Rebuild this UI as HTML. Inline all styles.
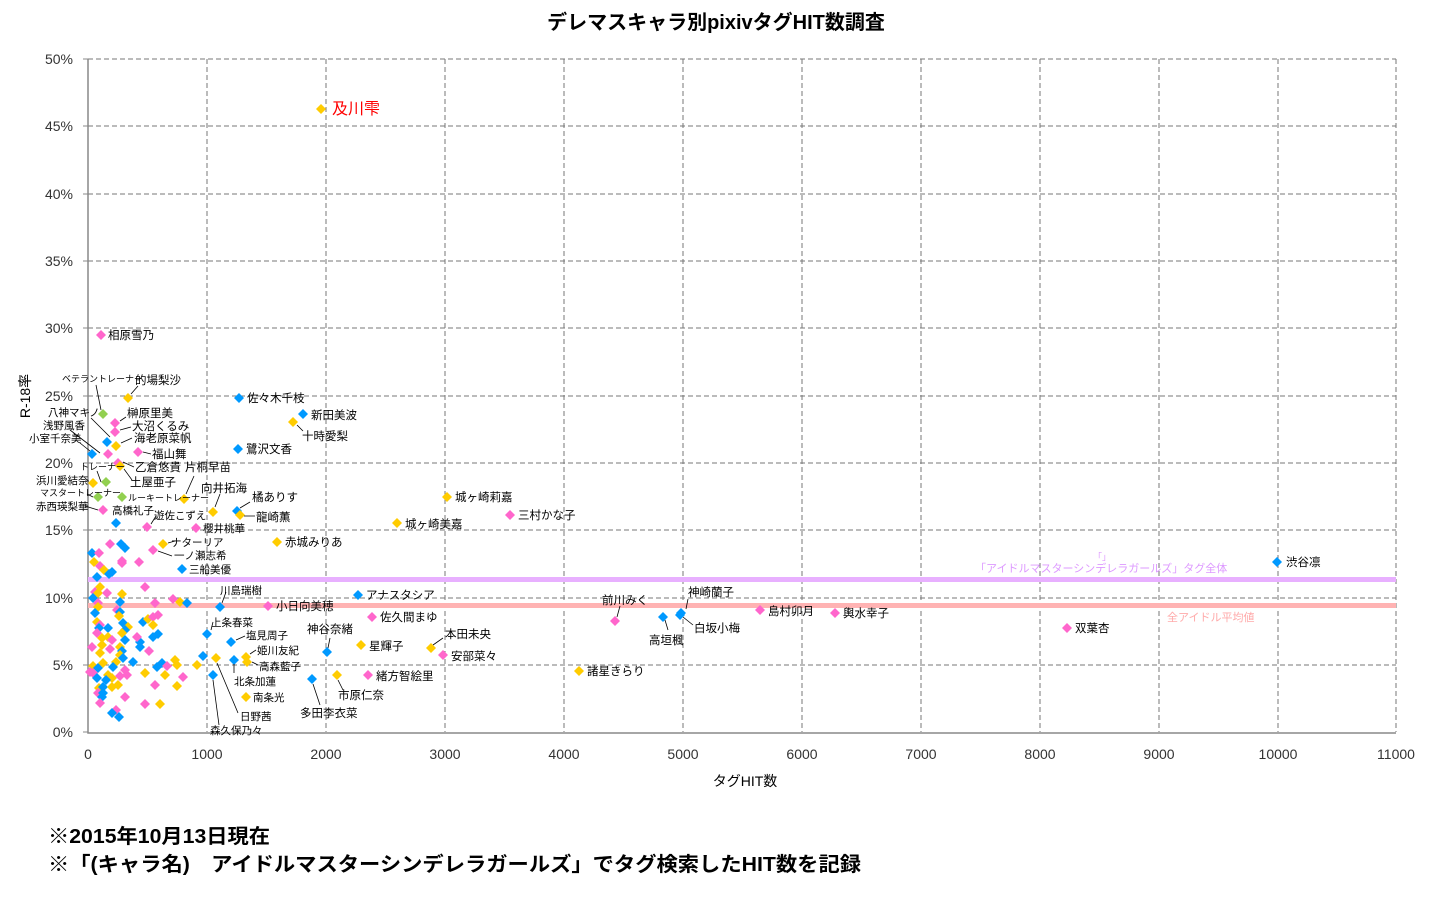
<!DOCTYPE html>
<html><head><meta charset="utf-8"><style>
body{margin:0;background:#fff;}
svg{display:block;font-family:"Liberation Sans","Noto Sans CJK JP",sans-serif;}
.t{font-size:11.5px;fill:#000;}
.s{font-size:9px;fill:#000;}
.k{font-size:14px;fill:#333;}
</style></head><body>
<svg width="1429" height="906" viewBox="0 0 1429 906" xmlns="http://www.w3.org/2000/svg">
<defs>
<polygon id="P" points="0,-5 5,0 0,5 -5,0" fill="#ff66cc"/>
<polygon id="B" points="0,-5 5,0 0,5 -5,0" fill="#0099ff"/>
<polygon id="Y" points="0,-5 5,0 0,5 -5,0" fill="#ffcc00"/>
<polygon id="G" points="0,-5 5,0 0,5 -5,0" fill="#92d050"/>
</defs>
<text x="716" y="29" text-anchor="middle" font-size="20" font-weight="bold">デレマスキャラ別pixivタグHIT数調査</text>
<g stroke="#777" stroke-width="1" stroke-dasharray="5,3" fill="none">
<path d="M207,59V732M326,59V732M445,59V732M564,59V732M683,59V732M802,59V732M921,59V732M1040,59V732M1159,59V732M1278,59V732M1396,59V732"/>
<path d="M88,59H1396M88,126H1396M88,194H1396M88,261H1396M88,328H1396M88,396H1396M88,463H1396M88,530H1396M88,598H1396M88,665H1396"/>
</g>
<path d="M88,59V733H1396" stroke="#888" stroke-width="1.5" fill="none"/>
<g stroke="#888"><path d="M83,59H88M83,126H88M83,194H88M83,261H88M83,328H88M83,396H88M83,463H88M83,530H88M83,598H88M83,665H88M83,732H88"/></g>
<g class="k" text-anchor="end">
<text x="73" y="64">50%</text><text x="73" y="131">45%</text><text x="73" y="199">40%</text><text x="73" y="266">35%</text><text x="73" y="333">30%</text><text x="73" y="401">25%</text><text x="73" y="468">20%</text><text x="73" y="535">15%</text><text x="73" y="603">10%</text><text x="73" y="670">5%</text><text x="73" y="737">0%</text>
</g>
<g class="k" text-anchor="middle">
<text x="88" y="759">0</text><text x="207" y="759">1000</text><text x="326" y="759">2000</text><text x="445" y="759">3000</text><text x="564" y="759">4000</text><text x="683" y="759">5000</text><text x="802" y="759">6000</text><text x="921" y="759">7000</text><text x="1040" y="759">8000</text><text x="1159" y="759">9000</text><text x="1278" y="759">10000</text><text x="1396" y="759">11000</text>
</g>
<text x="745" y="786" text-anchor="middle" font-size="14">タグHIT数</text>
<text transform="translate(30,396) rotate(-90)" text-anchor="middle" font-size="14">R-18率</text>
<rect x="88" y="577" width="1308" height="5" fill="#e8b0ff"/>
<rect x="88" y="603" width="1308" height="5" fill="#ffb3b3"/>
<text x="975" y="572" font-size="11" fill="#dd99ff">「アイドルマスターシンデレラガールズ」タグ全体</text>
<text x="1093" y="560" font-size="9" fill="#dd99ff">「」</text>
<text x="1167" y="621" font-size="11" fill="#ffaaaa">全アイドル平均値</text>
<g>
<use href="#Y" x="94" y="562"/><use href="#P" x="100" y="566"/><use href="#Y" x="104" y="570"/><use href="#B" x="112" y="572"/><use href="#B" x="109" y="574"/><use href="#P" x="122" y="563"/><use href="#P" x="139" y="562"/><use href="#B" x="97" y="577"/><use href="#P" x="145" y="587"/><use href="#Y" x="100" y="587"/><use href="#P" x="95" y="592"/><use href="#Y" x="98" y="593"/><use href="#P" x="107" y="593"/><use href="#Y" x="122" y="594"/><use href="#B" x="93" y="598"/><use href="#B" x="120" y="602"/><use href="#P" x="98" y="603"/><use href="#Y" x="98" y="607"/><use href="#P" x="155" y="603"/><use href="#P" x="173" y="599"/><use href="#Y" x="180" y="602"/><use href="#B" x="187" y="603"/><use href="#B" x="95" y="613"/><use href="#P" x="117" y="610"/><use href="#B" x="120" y="612"/><use href="#Y" x="119" y="616"/><use href="#Y" x="97" y="622"/><use href="#B" x="123" y="623"/><use href="#B" x="143" y="622"/><use href="#Y" x="148" y="619"/><use href="#P" x="153" y="617"/><use href="#P" x="158" y="615"/><use href="#Y" x="153" y="625"/><use href="#P" x="100" y="625"/><use href="#B" x="108" y="628"/><use href="#B" x="99" y="628"/><use href="#Y" x="128" y="627"/><use href="#B" x="125" y="630"/><use href="#P" x="97" y="633"/><use href="#Y" x="102" y="638"/><use href="#Y" x="108" y="637"/><use href="#P" x="112" y="640"/><use href="#Y" x="122" y="633"/><use href="#B" x="125" y="640"/><use href="#B" x="140" y="642"/><use href="#B" x="153" y="637"/><use href="#B" x="158" y="634"/><use href="#P" x="137" y="637"/><use href="#B" x="140" y="647"/><use href="#P" x="92" y="647"/><use href="#Y" x="102" y="645"/><use href="#Y" x="120" y="647"/><use href="#P" x="110" y="649"/><use href="#Y" x="100" y="653"/><use href="#P" x="149" y="651"/><use href="#B" x="122" y="651"/><use href="#Y" x="120" y="655"/><use href="#B" x="123" y="658"/><use href="#Y" x="116" y="662"/><use href="#B" x="133" y="662"/><use href="#B" x="113" y="667"/><use href="#Y" x="103" y="663"/><use href="#Y" x="93" y="666"/><use href="#B" x="98" y="668"/><use href="#P" x="90" y="672"/><use href="#P" x="93" y="673"/><use href="#P" x="125" y="670"/><use href="#P" x="127" y="675"/><use href="#Y" x="145" y="673"/><use href="#B" x="157" y="667"/><use href="#B" x="162" y="663"/><use href="#P" x="167" y="666"/><use href="#Y" x="165" y="675"/><use href="#Y" x="175" y="660"/><use href="#Y" x="177" y="665"/><use href="#Y" x="197" y="665"/><use href="#P" x="183" y="677"/><use href="#Y" x="108" y="675"/><use href="#Y" x="112" y="678"/><use href="#B" x="106" y="680"/><use href="#B" x="97" y="678"/><use href="#Y" x="99" y="688"/><use href="#B" x="103" y="687"/><use href="#Y" x="118" y="685"/><use href="#Y" x="112" y="687"/><use href="#P" x="120" y="676"/><use href="#P" x="155" y="685"/><use href="#Y" x="177" y="686"/><use href="#P" x="98" y="693"/><use href="#B" x="102" y="697"/><use href="#P" x="125" y="697"/><use href="#P" x="145" y="704"/><use href="#Y" x="160" y="704"/><use href="#P" x="116" y="710"/><use href="#B" x="112" y="713"/><use href="#B" x="119" y="717"/><use href="#P" x="100" y="703"/><use href="#B" x="103" y="693"/>
<use href="#P" x="110" y="544"/><use href="#B" x="121" y="544"/><use href="#B" x="125" y="548"/><use href="#B" x="92" y="553"/><use href="#P" x="99" y="553"/><use href="#P" x="122" y="561"/><use href="#B" x="203" y="656"/>
</g>
<g>
<use href="#Y" x="321" y="109"/><use href="#P" x="101" y="335"/><use href="#Y" x="128" y="398"/><use href="#G" x="103" y="414"/><use href="#P" x="115" y="423"/><use href="#P" x="115" y="432"/><use href="#B" x="107" y="442"/><use href="#Y" x="116" y="446"/><use href="#B" x="92" y="454"/><use href="#P" x="108" y="454"/><use href="#P" x="138" y="452"/><use href="#P" x="118" y="463"/><use href="#Y" x="120" y="466"/><use href="#Y" x="93" y="483"/><use href="#G" x="106" y="482"/><use href="#G" x="98" y="497"/><use href="#G" x="122" y="497"/><use href="#Y" x="184" y="499"/><use href="#P" x="103" y="510"/><use href="#B" x="116" y="523"/><use href="#P" x="147" y="527"/><use href="#P" x="196" y="528"/><use href="#Y" x="213" y="512"/><use href="#B" x="237" y="511"/><use href="#Y" x="240" y="515"/><use href="#B" x="239" y="398"/><use href="#B" x="303" y="414"/><use href="#Y" x="293" y="422"/><use href="#B" x="238" y="449"/><use href="#Y" x="277" y="542"/><use href="#Y" x="163" y="544"/><use href="#P" x="153" y="550"/><use href="#B" x="182" y="569"/><use href="#Y" x="447" y="497"/><use href="#P" x="510" y="515"/><use href="#Y" x="397" y="523"/><use href="#B" x="1277" y="562"/><use href="#B" x="358" y="595"/><use href="#B" x="220" y="607"/><use href="#P" x="268" y="606"/><use href="#P" x="372" y="617"/><use href="#B" x="207" y="634"/><use href="#B" x="231" y="642"/><use href="#B" x="327" y="652"/><use href="#Y" x="361" y="645"/><use href="#Y" x="431" y="648"/><use href="#P" x="443" y="655"/><use href="#Y" x="246" y="657"/><use href="#Y" x="247" y="662"/><use href="#B" x="234" y="660"/><use href="#P" x="368" y="675"/><use href="#Y" x="337" y="675"/><use href="#B" x="312" y="679"/><use href="#Y" x="246" y="697"/><use href="#Y" x="216" y="658"/><use href="#B" x="213" y="675"/><use href="#Y" x="579" y="671"/><use href="#P" x="615" y="621"/><use href="#B" x="663" y="617"/><use href="#B" x="681" y="613"/><use href="#B" x="680" y="615"/><use href="#P" x="760" y="610"/><use href="#P" x="835" y="613"/><use href="#P" x="1067" y="628"/>
</g>
<g stroke="#000" stroke-width="0.8" fill="none">
<path d="M101,410L96,385M110,437L91,418M100,453L70,430M90,451L80,443M131,394L138,386M120,421L126,417M120,430L131,427M121,443L132,438M143,452L151,454M123,462L134,467M124,469L132,480M89,481L85,481M101,482L97,471M93,497L87,494M98,510L85,506M186,494L194,476M215,507L220,494M240,508L250,502M244,516L255,516M151,524L156,516M168,543L175,541M158,551L172,556M222,603L226,592M211,630L213,622M236,640L245,636M250,654L256,650M252,662L258,665M234,664L234,673M328,648L330,638M338,680L343,690M313,684L320,705M217,663L238,713M213,680L219,725M617,617L620,606M686,609L688,599M683,617L693,625M665,620L668,630M433,645L443,638M297,425L303,431"/>
</g>
<text x="332" y="114" font-size="16" fill="#ff0000">及川雫</text>
<g class="t">
<text x="108" y="339">相原雪乃</text><text x="135" y="384">的場梨沙</text><text x="127" y="417">榊原里美</text><text x="132" y="430">大沼くるみ</text><text x="134" y="442">海老原菜帆</text><text x="152" y="458">福山舞</text><text x="135" y="471">乙倉悠貴</text><text x="130" y="486">土屋亜子</text><text x="185" y="471">片桐早苗</text><text x="201" y="492">向井拓海</text><text x="252" y="501">橘ありす</text><text x="256" y="521">龍崎薫</text><text x="247" y="402">佐々木千枝</text><text x="311" y="419">新田美波</text><text x="302" y="440">十時愛梨</text><text x="246" y="453">鷺沢文香</text><text x="285" y="546">赤城みりあ</text><text x="455" y="501">城ヶ崎莉嘉</text><text x="518" y="519">三村かな子</text><text x="405" y="528">城ヶ崎美嘉</text><text x="1286" y="566">渋谷凛</text><text x="366" y="599">アナスタシア</text><text x="276" y="610">小日向美穂</text><text x="380" y="621">佐久間まゆ</text><text x="307" y="633">神谷奈緒</text><text x="369" y="650">星輝子</text><text x="445" y="638">本田未央</text><text x="451" y="660">安部菜々</text><text x="376" y="680">緒方智絵里</text><text x="338" y="699">市原仁奈</text><text x="300" y="717">多田李衣菜</text><text x="587" y="675">諸星きらり</text><text x="602" y="604">前川みく</text><text x="649" y="644">高垣楓</text><text x="688" y="596">神崎蘭子</text><text x="694" y="632">白坂小梅</text><text x="768" y="615">島村卯月</text><text x="843" y="617">輿水幸子</text><text x="1075" y="632">双葉杏</text>
</g>
<g style="font-size:10.5px">
<text x="36" y="484">浜川愛結奈</text><text x="36" y="510">赤西瑛梨華</text><text x="112" y="514">高橋礼子</text><text x="154" y="519">遊佐こずえ</text><text x="203" y="532">櫻井桃華</text><text x="171" y="546">ナターリア</text><text x="174" y="559">一ノ瀬志希</text><text x="189" y="573">三船美優</text><text x="220" y="594">川島瑞樹</text><text x="211" y="626">上条春菜</text><text x="246" y="639">塩見周子</text><text x="257" y="654">姫川友紀</text><text x="259" y="670">高森藍子</text><text x="234" y="685">北条加蓮</text><text x="253" y="701">南条光</text><text x="240" y="720">日野茜</text><text x="210" y="734">森久保乃々</text><text x="48" y="416">八神マキノ</text><text x="43" y="429">浅野風香</text><text x="29" y="442">小室千奈美</text>
</g>
<g class="s">
<text x="62" y="382">ベテラントレーナー</text><text x="80" y="470">トレーナー</text><text x="40" y="496">マスタートレーナー</text><text x="128" y="501">ルーキートレーナー</text>
</g>
<text x="48" y="843" font-size="20" font-weight="bold" textLength="222" lengthAdjust="spacingAndGlyphs">※2015年10月13日現在</text>
<text x="48" y="871" font-size="20" font-weight="bold" textLength="813" lengthAdjust="spacingAndGlyphs">※「(キャラ名)　アイドルマスターシンデレラガールズ」でタグ検索したHIT数を記録</text>
</svg>
</body></html>
